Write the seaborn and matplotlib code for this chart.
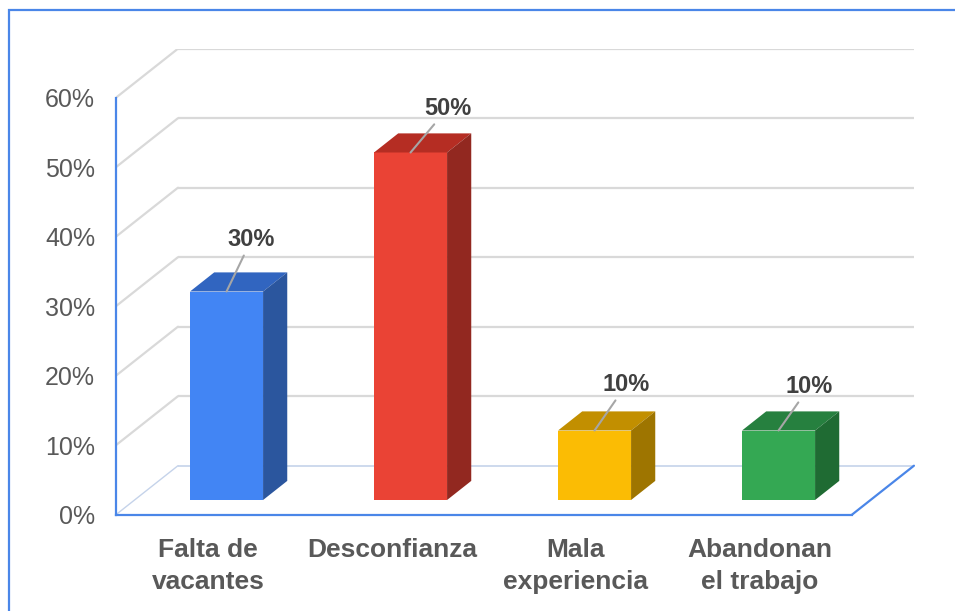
import matplotlib
matplotlib.use("Agg")
import matplotlib.pyplot as plt
from matplotlib.patches import Polygon, Rectangle
import seaborn as sns

# data
categories = ["Falta de\nvacantes", "Desconfianza", "Mala\nexperiencia", "Abandonan\nel trabajo"]
values = [30, 50, 10, 10]
value_labels = ["30%", "50%", "10%", "10%"]
y_ticks = [0, 10, 20, 30, 40, 50, 60]

front_colors = ["#4285f4", "#ea4335", "#fbbc04", "#34a853"]
top_colors = ["#3165c0", "#b52d23", "#c28f00", "#26803f"]
side_colors = ["#2b569e", "#922820", "#9e7500", "#1f6b33"]

# fake 3d depth (in data units)
ox, oy = 0.337, 7.05
fx, fy = -0.3 * ox, -0.3 * oy      # front plane (axis)
bx, by = 0.7 * ox, 0.7 * oy        # back wall
dx, dy = 0.39 * ox, 0.39 * oy      # bar depth

sns.set_style("white")
plt.rcParams["font.family"] = ["Liberation Sans", "DejaVu Sans"]

fig = plt.figure(figsize=(9.55, 6.11), dpi=100)
ax = fig.add_axes([0.1214, 0.1576, 0.8364, 0.7627])

sns.barplot(x=categories, y=values, hue=categories, palette=front_colors,
            width=0.397, legend=False, ax=ax, zorder=3, saturation=1,
            linewidth=0, edgecolor="none")

# back wall gridlines + left diagonals
grid_c = "#d9d9d9"
floor_c = "#c5d3ea"
for v in y_ticks:
    c = floor_c if v == 0 else grid_c
    lw = 1.2 if v == 0 else 1.6
    ax.plot([-0.5 + bx, 3.5 + bx], [v + by, v + by], color=c, lw=lw, zorder=1,
            solid_capstyle="butt")
    ax.plot([-0.5 + fx, -0.5 + bx], [v + fy, v + by], color=c,
            lw=1.0 if v == 0 else 1.6, zorder=1)
ax.plot([3.5 + fx, 3.5 + bx], [fy, by], color="#4a86e8", lw=1.6, zorder=2)

# top and side faces
for i, p in enumerate(ax.patches):
    x0, w, h = p.get_x(), p.get_width(), p.get_height()
    top = Polygon([(x0, h), (x0 + w, h), (x0 + w + dx, h + dy), (x0 + dx, h + dy)],
                  closed=True, facecolor=top_colors[i], edgecolor="none", zorder=3)
    side = Polygon([(x0 + w, 0), (x0 + w, h), (x0 + w + dx, h + dy), (x0 + w + dx, dy)],
                   closed=True, facecolor=side_colors[i], edgecolor="none", zorder=3)
    ax.add_patch(top)
    ax.add_patch(side)

# value labels with leader lines
label_offsets = [(25, 52), (37, 44), (32, 46), (31, 44)]
for i, p in enumerate(ax.patches[:4]):
    xc = p.get_x() + p.get_width() / 2
    ax.annotate(value_labels[i], xy=(xc, values[i]), xytext=label_offsets[i],
                textcoords="offset pixels", ha="center", va="center",
                fontsize=17, fontweight="bold", color="#404040", zorder=5,
                arrowprops=dict(arrowstyle="-", color="#a6a6a6", lw=1.5,
                                shrinkA=1, shrinkB=0))

ax.set_xlim(-0.5 + fx, 3.74)
ax.set_ylim(fy, 60 + by)

ax.set_yticks([v + fy for v in y_ticks])
ax.set_yticklabels([f"{v}%" for v in y_ticks])
ax.set_xticks([i + fx for i in range(len(categories))])
ax.set_xticklabels(categories, fontweight="bold", linespacing=1.38)
ax.tick_params(axis="y", length=0, pad=15, labelsize=18, labelcolor="#595959")
ax.tick_params(axis="x", length=0, pad=17, labelsize=19, labelcolor="#595959")
ax.set_xlabel("")
ax.set_ylabel("")

for s in ["top", "right"]:
    ax.spines[s].set_visible(False)
for s in ["left", "bottom"]:
    ax.spines[s].set_color("#4a86e8")
    ax.spines[s].set_linewidth(1.6)
ax.spines["left"].set_bounds(fy, 60 + fy)
ax.spines["bottom"].set_bounds(-0.5 + fx, 3.5 + fx)

# outer frame
fig.patches.append(Rectangle((8.5 / 955, -0.2), 1.2, 1.2 - 10 / 611,
                             transform=fig.transFigure, fill=False,
                             edgecolor="#4a86e8", lw=1.6, zorder=0))

fig.savefig("out.png", dpi=100)
